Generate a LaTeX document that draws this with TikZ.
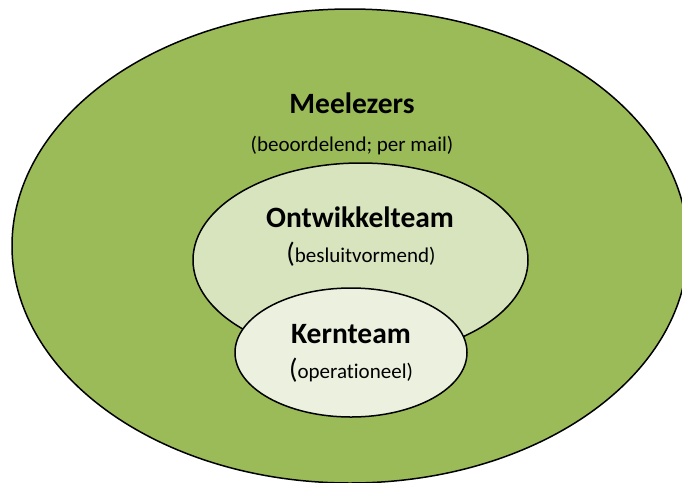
\documentclass[tikz,border=0pt]{standalone}
\usepackage{fontspec}
\setmainfont[Ligatures=NoCommon]{Carlito}
\definecolor{outerg}{HTML}{9BBB59}
\definecolor{midg}{HTML}{D7E4BD}
\definecolor{inng}{HTML}{EBF1DE}
\begin{document}
\begin{tikzpicture}[x=1pt,y=-1pt,
  ring/.style={draw=black,line width=1.5pt},
  title/.style={anchor=base,inner sep=0pt,font=\fontsize{29.5}{31}\selectfont\bfseries},
  sub/.style={anchor=base,inner sep=0pt,font=\fontsize{21}{24}\selectfont}]
\useasboundingbox (0,0) rectangle (682,482);
\clip (0,0) rectangle (682,482);
\fill[white] (0,0) rectangle (682,482);
\draw[ring,fill=outerg] (350,246) ellipse [x radius=338,y radius=237];
\draw[ring,fill=midg] (360.5,260) ellipse [x radius=167.5,y radius=97];
\draw[ring,fill=inng] (351,352.5) ellipse [x radius=116,y radius=64.5];
\node[title] (mtitle) at (352,113) {Meelezers};
\node[sub] (msub) at (352,151) {(beoordelend; per mail)};
\node[title] (otitle) at (360,227) {Ontwikkelteam};
\node[sub] (osub) at (361,262) {{\fontsize{28}{30}\selectfont(}besluitvormend)};
\node[title] (ktitle) at (351,343) {Kernteam};
\node[sub] (ksub) at (351,378) {{\fontsize{28}{30}\selectfont(}operationeel)};
\end{tikzpicture}
\end{document}
